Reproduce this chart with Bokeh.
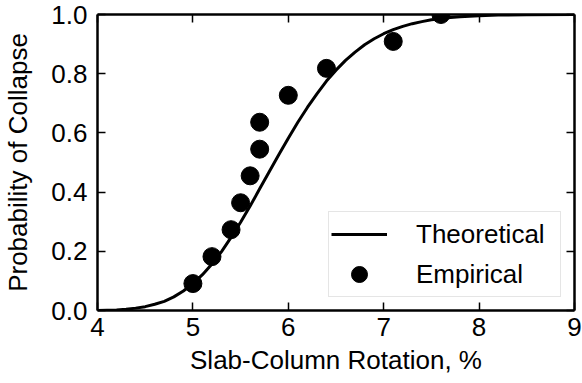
from bokeh.plotting import figure
from bokeh.models import Range1d, LinearAxis, FixedTicker, NumeralTickFormatter, Legend, LegendItem
from bokeh.embed import file_html
from bokeh.resources import INLINE

# Fragility data: slab-column rotation (%) vs probability of collapse
rotation_theoretical = [4.0, 4.1, 4.2, 4.3, 4.4, 4.5, 4.6, 4.7, 4.8, 4.9,
                        5.0, 5.1, 5.2, 5.3, 5.4, 5.5, 5.6, 5.7, 5.8, 5.9,
                        6.0, 6.1, 6.2, 6.3, 6.4, 6.5, 6.6, 6.7, 6.8, 6.9,
                        7.0, 7.1, 7.2, 7.3, 7.4, 7.5, 7.6, 7.7, 7.8, 7.9,
                        8.0, 8.2, 8.5, 9.0]
prob_theoretical = [0.000, 0.001, 0.002, 0.004, 0.008, 0.013, 0.021, 0.031, 0.046, 0.066,
                    0.091, 0.121, 0.157, 0.199, 0.247, 0.298, 0.353, 0.411, 0.469, 0.526,
                    0.582, 0.636, 0.686, 0.732, 0.775, 0.812, 0.845, 0.873, 0.898, 0.918,
                    0.935, 0.949, 0.960, 0.969, 0.976, 0.982, 0.986, 0.990, 0.992, 0.994,
                    0.996, 0.998, 0.999, 1.000]

rotation_empirical = [5.0, 5.2, 5.4, 5.5, 5.6, 5.7, 5.7, 6.0, 6.4, 7.1, 7.6]
prob_empirical = [0.091, 0.182, 0.273, 0.364, 0.455, 0.545, 0.636, 0.727, 0.818, 0.909, 1.0]

x_ticks = [4, 5, 6, 7, 8, 9]
y_ticks = [0.0, 0.2, 0.4, 0.6, 0.8, 1.0]

FONT = "Liberation Sans"
FS = "26px"

p = figure(width=582, height=383, output_backend="svg", toolbar_location=None,
           x_range=Range1d(4, 9), y_range=Range1d(0, 1),
           min_border_left=96, min_border_right=8, min_border_top=14, min_border_bottom=73,
           x_axis_label="Slab-Column Rotation, %", y_axis_label="Probability of Collapse")
p.grid.visible = False
p.outline_line_color = None
p.background_fill_color = "white"
p.border_fill_color = "white"

line_r = p.line(rotation_theoretical, prob_theoretical, line_color="black", line_width=3)
dots_r = p.scatter(rotation_empirical, prob_empirical, size=18, fill_color="black", line_color="black")


def style_axis(ax, ticks, labels=True):
    ax.ticker = FixedTicker(ticks=ticks)
    ax.axis_line_width = 2.5
    ax.axis_line_color = "black"
    ax.major_tick_in = 8
    ax.major_tick_out = 0
    ax.major_tick_line_width = 1.5
    ax.minor_tick_in = 0
    ax.minor_tick_out = 0
    ax.major_label_text_font = FONT
    ax.major_label_text_color = "black"
    ax.major_label_text_font_size = FS
    ax.axis_label_text_font = FONT
    ax.axis_label_text_font_size = FS
    ax.axis_label_text_font_style = "normal"
    ax.axis_label_text_color = "black"
    if not labels:
        # tick marks only on the mirrored sides
        ax.major_label_overrides = {t: "" for t in ticks}
        ax.major_label_text_font_size = "1px"
        ax.major_label_standoff = 0


style_axis(p.xaxis[0], x_ticks)
style_axis(p.yaxis[0], y_ticks)
p.yaxis[0].formatter = NumeralTickFormatter(format="0.0")
p.xaxis[0].major_label_standoff = 7
p.xaxis[0].axis_label_standoff = 6
p.yaxis[0].major_label_standoff = 10
p.yaxis[0].axis_label_standoff = 15

top_ax = LinearAxis()
style_axis(top_ax, x_ticks, labels=False)
p.add_layout(top_ax, "above")
right_ax = LinearAxis()
style_axis(right_ax, y_ticks, labels=False)
p.add_layout(right_ax, "right")

legend = Legend(items=[LegendItem(label="Theoretical", renderers=[line_r]),
                       LegendItem(label="Empirical", renderers=[dots_r])],
                location="bottom_right")
legend.margin = 13
legend.padding = 2
legend.spacing = 0
legend.glyph_width = 56
legend.glyph_height = 40
legend.label_height = 40
legend.label_width = 142
legend.label_standoff = 29
legend.label_text_font = FONT
legend.label_text_font_size = FS
legend.label_text_color = "black"
legend.border_line_color = "#cccccc"
legend.border_line_width = 1.5
legend.background_fill_color = "white"
legend.background_fill_alpha = 0.9
p.add_layout(legend, "center")

open("out.html", "w").write(file_html(p, INLINE))
